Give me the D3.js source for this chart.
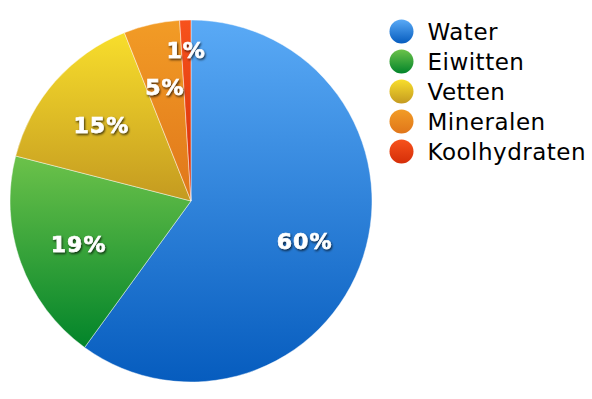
<!DOCTYPE html>
<html><head><meta charset="utf-8">
<script src="https://cdn.jsdelivr.net/npm/d3@7"></script>
<style>
html,body{margin:0;padding:0;background:#fff;}
svg{display:block;}
</style></head>
<body>
<svg id="chart" width="592" height="399"></svg>
<script>
const categories = ["Water", "Eiwitten", "Vetten", "Mineralen", "Koolhydraten"];
const values = [60, 19, 15, 5, 1];
const labels = ["60%", "19%", "15%", "5%", "1%"];
const colorsTop = ["#5aaaf6", "#6cc24a", "#f8de2c", "#f29c26", "#f7521c"];
const colorsBottom = ["#065cbe", "#02842a", "#c49a20", "#e0761a", "#d52e08"];

const svg = d3.select("#chart");
const cx = 191, cy = 201, R = 181;
const defs = svg.append("defs");
categories.forEach((c, i) => {
  const g = defs.append("linearGradient").attr("id", "g" + i)
    .attr("x1", 0).attr("y1", 0).attr("x2", 0).attr("y2", 1);
  g.append("stop").attr("offset", "0%").attr("stop-color", colorsTop[i]);
  g.append("stop").attr("offset", "100%").attr("stop-color", colorsBottom[i]);
});
const f = defs.append("filter").attr("id", "ts").attr("x", "-20%").attr("y", "-20%").attr("width", "140%").attr("height", "140%");
f.append("feDropShadow").attr("dx", 1).attr("dy", 1.5).attr("stdDeviation", 0.8)
  .attr("flood-color", "#000").attr("flood-opacity", 0.75);

const pie = d3.pie().sort(null).value(d => d)(values);
const arc = d3.arc().innerRadius(0).outerRadius(R);
const g = svg.append("g").attr("transform", `translate(${cx},${cy})`);
g.selectAll("path.slice").data(pie).join("path").attr("class", "slice")
  .attr("d", arc)
  .attr("fill", (d, i) => `url(#g${i})`)
  .attr("stroke", "rgba(255,255,255,0.55)").attr("stroke-width", 0.8);

g.selectAll("text.lbl").data(pie).join("text").attr("class", "lbl")
  .attr("transform", d => {
    const frac = (d.endAngle - d.startAngle) / (2 * Math.PI);
    const r = frac < 0.03 ? R * 0.85 : R * 0.66;
    const a = (d.startAngle + d.endAngle) / 2;
    return `translate(${r * Math.sin(a)},${-r * Math.cos(a)})`;
  })
  .attr("text-anchor", "middle").attr("dy", "0.5em")
  .attr("font-family", "'DejaVu Sans', Verdana, sans-serif")
  .attr("font-weight", "bold").attr("font-size", 22)
  .attr("letter-spacing", 1)
  .attr("stroke", "#fff").attr("stroke-width", 0.6)
  .attr("fill", "#fff").attr("filter", "url(#ts)")
  .text((d, i) => labels[i]);

const lg = svg.append("g");
const rows = lg.selectAll("g").data(categories).join("g")
  .attr("transform", (d, i) => `translate(401.5,${31.5 + i * 30})`);
rows.append("circle").attr("r", 12).attr("fill", (d, i) => `url(#g${i})`);
rows.append("text").attr("x", 26).attr("dy", "0.36em")
  .attr("font-family", "'DejaVu Sans', Verdana, sans-serif")
  .attr("letter-spacing", 0.5)
  .attr("font-size", 23).attr("fill", "#000").text(d => d);
</script>
</body></html>
